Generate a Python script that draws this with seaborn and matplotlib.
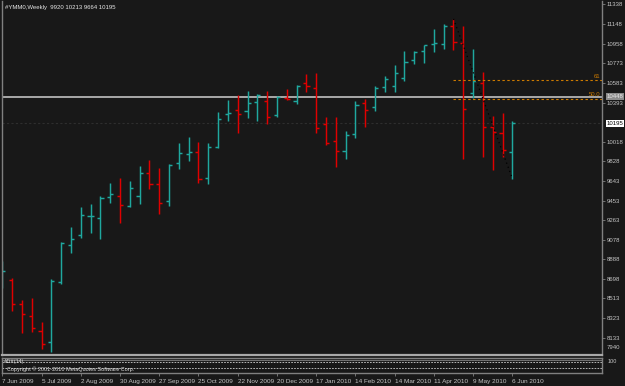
import numpy as np
import pandas as pd
import matplotlib
matplotlib.use("Agg")
import matplotlib.pyplot as plt
import seaborn as sns

# ---------------- data ----------------
start_date = "2009-06-07"
n_bars = 53
opens = [8700, 8690, 8457, 8344, 8198, 8098, 8671, 9026, 9119, 9302, 9282, 9487, 9499,
         9403, 9499, 9714, 9609, 9448, 9816, 9902, 9922, 9672, 9967, 10281, 10325, 10315,
         10396, 10408, 10274, 10434, 10406, 10584, 10530, 10185, 10027, 9931, 10089, 10392,
         10351, 10546, 10552, 10626, 10805, 10891, 10953, 10953, 11128, 10962, 10485, 10581,
         10156, 10104, 9920]
highs = [8872, 8706, 8498, 8517, 8287, 8697, 9052, 9196, 9394, 9422, 9499, 9621, 9669,
         9640, 9787, 9845, 9765, 9804, 10002, 10063, 10018, 10002, 10300, 10418, 10469, 10502,
         10476, 10502, 10454, 10521, 10565, 10670, 10677, 10252, 10258, 10123, 10411, 10430,
         10552, 10648, 10751, 10886, 10888, 10949, 11097, 11145, 11196, 11128, 10905, 10687,
         10267, 10293, 10213]
lows = [8616, 8395, 8184, 8194, 8025, 8002, 8652, 8946, 9096, 9144, 9081, 9432, 9237,
        9388, 9420, 9566, 9326, 9403, 9753, 9832, 9621, 9614, 9960, 10219, 10104, 10242,
        10219, 10190, 10258, 10418, 10382, 10498, 10104, 9986, 9778, 9854, 10056, 10162,
        10315, 10492, 10498, 10603, 10761, 10776, 10879, 10908, 10901, 9849, 10437, 9874,
        9749, 9868, 9664]
closes = [8776, 8462, 8364, 8229, 8076, 8683, 9048, 9084, 9314, 9307, 9480, 9518, 9407,
          9576, 9720, 9612, 9426, 9797, 9912, 9922, 9657, 9967, 10233, 10290, 10284, 10386,
          10469, 10258, 10450, 10430, 10555, 10555, 10149, 10008, 9931, 10085, 10370, 10319,
          10533, 10620, 10674, 10786, 10879, 10943, 10968, 11131, 10972, 10332, 10598, 10156,
          10108, 9935, 10195]
price_ticks = [11338, 11148, 10958, 10773, 10583, 10393, 10018, 9828, 9643, 9453,
               9263, 9078, 8888, 8698, 8513, 8323, 8133]
date_labels = ["7 Jun 2009", "5 Jul 2009", "2 Aug 2009", "30 Aug 2009", "27 Sep 2009",
               "25 Oct 2009", "22 Nov 2009", "20 Dec 2009", "17 Jan 2010", "14 Feb 2010",
               "14 Mar 2010", "11 Apr 2010", "9 May 2010", "6 Jun 2010"]
title_text = "#YMM0,Weekly  9920 10213 9664 10195"
hline_price = 10448
bid_price = 10195
fib_start_bar, fib_end_bar = 46, 52
fib_high, fib_low = 11196, 9664
fib_levels = [0.618, 0.5]
fib_names = ["61", "50.0"]
min_label = "7940"

# ---------------- style ----------------
BG = "#181818"
TEAL = "#1fa89f"
RED = "#e00000"
GRID = "#808080"
TXT = "#c4c4c4"

sns.set_theme(style="dark", rc={"axes.facecolor": BG, "figure.facecolor": BG})
plt.rcParams["font.family"] = ["Liberation Sans", "DejaVu Sans"]

df = pd.DataFrame({"date": pd.date_range(start_date, periods=n_bars, freq="7D"),
                   "open": opens, "high": highs, "low": lows, "close": closes})
df["i"] = np.arange(len(df))
df["up"] = df["close"] >= df["open"]

W, H = 625, 386
fig = plt.figure(figsize=(W / 100, H / 100), dpi=100)
fig.patch.set_facecolor(BG)

def frac(x0, y_top, x1, y_bot):
    return [x0 / W, 1 - y_bot / H, (x1 - x0) / W, (y_bot - y_top) / H]

ax = fig.add_axes(frac(2, 1, 602, 355))
sub = fig.add_axes(frac(2, 358, 602, 373), sharex=ax)

ax.set_facecolor(BG)
sub.set_facecolor(BG)

# OHLC bars
arm = 0.32
for up, g in df.groupby("up"):
    col = TEAL if up else RED
    ax.vlines(g["i"], g["low"], g["high"], color=col, lw=1.05)
    ax.hlines(g["open"], g["i"] - arm, g["i"], color=col, lw=1.05)
    ax.hlines(g["close"], g["i"], g["i"] + arm, color=col, lw=1.05)

ax.set_xlim(-0.03, 61.14)
ax.set_ylim(7970, 11368)

# horizontal line + bid line
ax.axhline(hline_price, color="#b4b4b4", lw=1.3, zorder=1)
ax.axhline(bid_price, color="#2e2e2e", lw=0.8, ls=(0, (2, 2)), zorder=0.5)

# fibonacci retracement
x_end = ax.get_xlim()[1]
for lev, name in zip(fib_levels, fib_names):
    p = fib_low + lev * (fib_high - fib_low)
    ax.hlines(p, fib_start_bar, x_end, color="#cc7a00", lw=0.8, ls=(0, (2.2, 2.2)))
    ax.text(x_end - 0.2, p + 12, name, color="#cc7a00", fontsize=4.3,
            ha="right", va="bottom")
sns.lineplot(x=[fib_start_bar, fib_end_bar], y=[fib_high, fib_low], ax=ax,
             color="#000000", lw=0.9, ls=(0, (1, 2.5)))

# right price axis
ax.yaxis.tick_right()
ax.set_yticks(price_ticks)
ax.set_yticklabels([str(t) for t in price_ticks])
ax.tick_params(axis="y", colors=GRID, labelcolor=TXT, labelsize=4.3, length=2,
               width=0.6, pad=1.5, right=True, left=False)
ax.tick_params(axis="x", bottom=False, labelbottom=False)
ax.set_xlabel("")
ax.set_ylabel("")
ax.grid(False)
ax.spines["top"].set_visible(False)
ax.spines["left"].set_color(GRID)
ax.spines["left"].set_linewidth(1.0)
ax.spines["right"].set_color(GRID)
ax.spines["right"].set_linewidth(1.0)
ax.spines["bottom"].set_color("#a8a8a8")
ax.spines["bottom"].set_linewidth(1.6)

# special price labels
ax.annotate(str(hline_price), xy=(1.0, hline_price), xycoords=("axes fraction", "data"),
            xytext=(3.2, 0), textcoords="offset points", fontsize=4.3, color="#e8e8e8",
            va="center", ha="left", annotation_clip=False,
            bbox=dict(boxstyle="square,pad=0.15", fc="#8c8c8c", ec="none"))
ax.annotate(str(bid_price), xy=(1.0, bid_price), xycoords=("axes fraction", "data"),
            xytext=(3.2, 0), textcoords="offset points", fontsize=4.3, color="#000000",
            va="center", ha="left", annotation_clip=False,
            bbox=dict(boxstyle="square,pad=0.15", fc="#ffffff", ec="none"))
ax.annotate(min_label, xy=(1.0, 0.0), xycoords="axes fraction",
            xytext=(3.7, 5.5), textcoords="offset points", fontsize=4.3, color=TXT,
            va="center", ha="left", annotation_clip=False)

# title
fig.text(5 / W, 1 - 7.5 / H, title_text, color="#e6e6e6", fontsize=4.3,
         ha="left", va="center")

# indicator sub-window
sub.set_ylim(0, 1)
sub.axhline(0.72, color="#d0d0d0", lw=0.6, ls=(0, (2, 1.5)))
sub.axhline(0.32, color="#d0d0d0", lw=0.6, ls=(0, (2, 1.5)))
sub.axhline(0.86, color="#707070", lw=0.8)
sub.text(0.004, 0.78, "ADX(14)", transform=sub.transAxes, fontsize=3.8,
         color="#e0e0e0", va="center", ha="left")
sub.text(0.008, 0.25, "Copyright \u00a9 2001-2010 MetaQuotes Software Corp.",
         transform=sub.transAxes, fontsize=4.0, color="#e0e0e0", va="center", ha="left")
sub.set_yticks([])
sub.annotate("100", xy=(1.0, 0.75), xycoords="axes fraction", xytext=(3.7, 0),
             textcoords="offset points", fontsize=4.0, color=TXT, va="center",
             ha="left", annotation_clip=False)
for s in ["top", "bottom", "left", "right"]:
    sub.spines[s].set_color(GRID)
    sub.spines[s].set_linewidth(1.0)
sub.grid(False)
sub.set_xticks(df["i"].iloc[::4].tolist())
sub.set_xticklabels(date_labels, ha="left")
sub.tick_params(axis="x", colors=GRID, labelcolor=TXT, labelsize=4.6, length=2.5,
                width=0.6, pad=1.5, bottom=True, direction="out")
for lbl in sub.get_xticklabels():
    lbl.set_x(lbl.get_position()[0])
sub.set_xlabel("")
sub.set_ylabel("")

fig.savefig("out.png", dpi=100, facecolor=BG)
